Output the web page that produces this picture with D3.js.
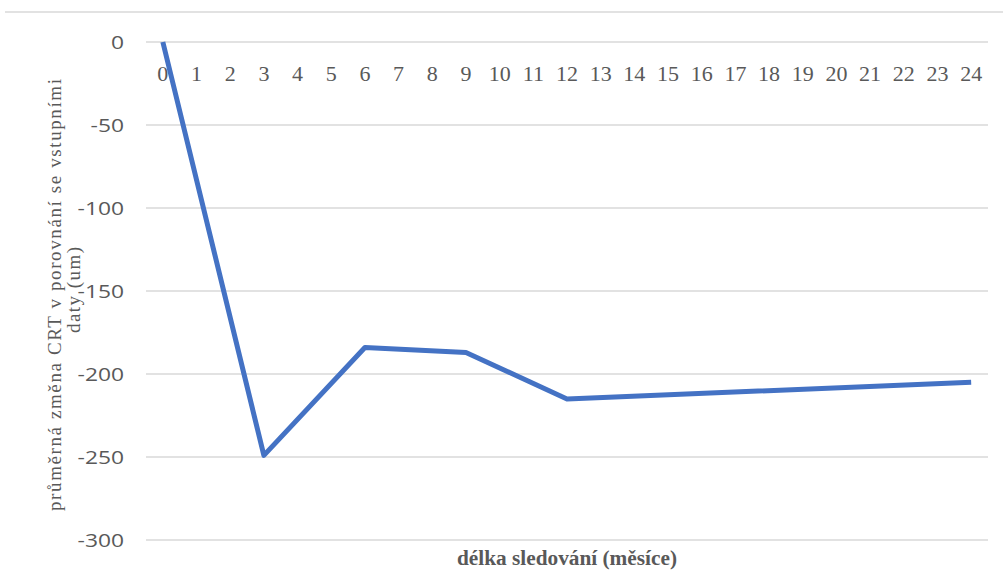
<!DOCTYPE html>
<html>
<head>
<meta charset="utf-8">
<script src="https://cdn.jsdelivr.net/npm/d3@7"></script>
<style>
  body { margin: 0; background: #fff; }
  svg { display: block; }
</style>
</head>
<body>
<svg width="1003" height="579"></svg>
<script>
document.addEventListener('DOMContentLoaded', function() {
  // months shown on the x axis
  const months = d3.range(0, 25);
  // measured points (month -> mean CRT change, um)
  const pointMonths = [0, 3, 6, 9, 12, 24];
  const pointValues = [0, -249, -184, -187, -215, -205];
  const yTicks = [0, -50, -100, -150, -200, -250, -300];

  const svg = d3.select('svg');
  const grey = '#595959';
  const serif = '"Liberation Serif", "DejaVu Serif", serif';

  // top border of the chart area
  svg.append('line')
    .attr('x1', 5).attr('x2', 1003)
    .attr('y1', 12).attr('y2', 12)
    .attr('stroke', '#d9d9d9').attr('stroke-width', 1.5);

  const x = d3.scaleBand()
    .domain(months)
    .range([146, 988]);
  const y = d3.scaleLinear()
    .domain([-300, 0])
    .range([540, 42]);

  const cx = m => x(m) + x.bandwidth() / 2;

  // gridlines
  svg.append('g').selectAll('line')
    .data(yTicks)
    .enter().append('line')
    .attr('x1', 146).attr('x2', 988)
    .attr('y1', d => y(d)).attr('y2', d => y(d))
    .attr('stroke', '#d9d9d9').attr('stroke-width', 1.3);

  // y tick labels (slightly stretched, like the source image)
  svg.append('g').selectAll('text')
    .data(yTicks)
    .enter().append('text')
    .attr('transform', d => 'translate(124,' + y(d) + ') scale(1.2,1)')
    .attr('dy', '0.35em')
    .attr('text-anchor', 'end')
    .attr('font-family', '"Open Sans", Lato, sans-serif')
    .attr('font-size', 19)
    .attr('fill', grey)
    .text(d => d);

  // x tick labels (drawn near the zero line)
  svg.append('g').selectAll('text')
    .data(months)
    .enter().append('text')
    .attr('x', d => cx(d))
    .attr('y', 81)
    .attr('text-anchor', 'middle')
    .attr('font-family', serif)
    .attr('font-size', 22)
    .attr('fill', grey)
    .text(d => d);

  // line
  const pts = pointMonths.map((m, i) => [m, pointValues[i]]);
  svg.append('path')
    .datum(pts)
    .attr('fill', 'none')
    .attr('stroke', '#4472c4')
    .attr('stroke-width', 5)
    .attr('stroke-linejoin', 'round')
    .attr('d', d3.line().x(d => cx(d[0])).y(d => y(d[1])));

  // axis titles
  svg.append('text')
    .attr('transform', 'translate(61,295) rotate(-90)')
    .attr('text-anchor', 'middle')
    .attr('font-family', serif)
    .attr('font-size', 19)
    .attr('fill', grey)
    .attr('textLength', 432)
    .attr('lengthAdjust', 'spacing')
    .text('průměrná změna CRT v porovnání se vstupními');
  svg.append('text')
    .attr('transform', 'translate(80,290) rotate(-90)')
    .attr('text-anchor', 'middle')
    .attr('font-family', serif)
    .attr('font-size', 19)
    .attr('fill', grey)
    .attr('textLength', 86)
    .attr('lengthAdjust', 'spacing')
    .text('daty (um)');

  svg.append('text')
    .attr('x', 567)
    .attr('y', 565)
    .attr('text-anchor', 'middle')
    .attr('font-family', serif)
    .attr('font-size', 20)
    .attr('font-weight', 'bold')
    .attr('fill', grey)
    .attr('textLength', 220)
    .attr('lengthAdjust', 'spacingAndGlyphs')
    .text('délka sledování (měsíce)');
}, false);
</script>
</body>
</html>
